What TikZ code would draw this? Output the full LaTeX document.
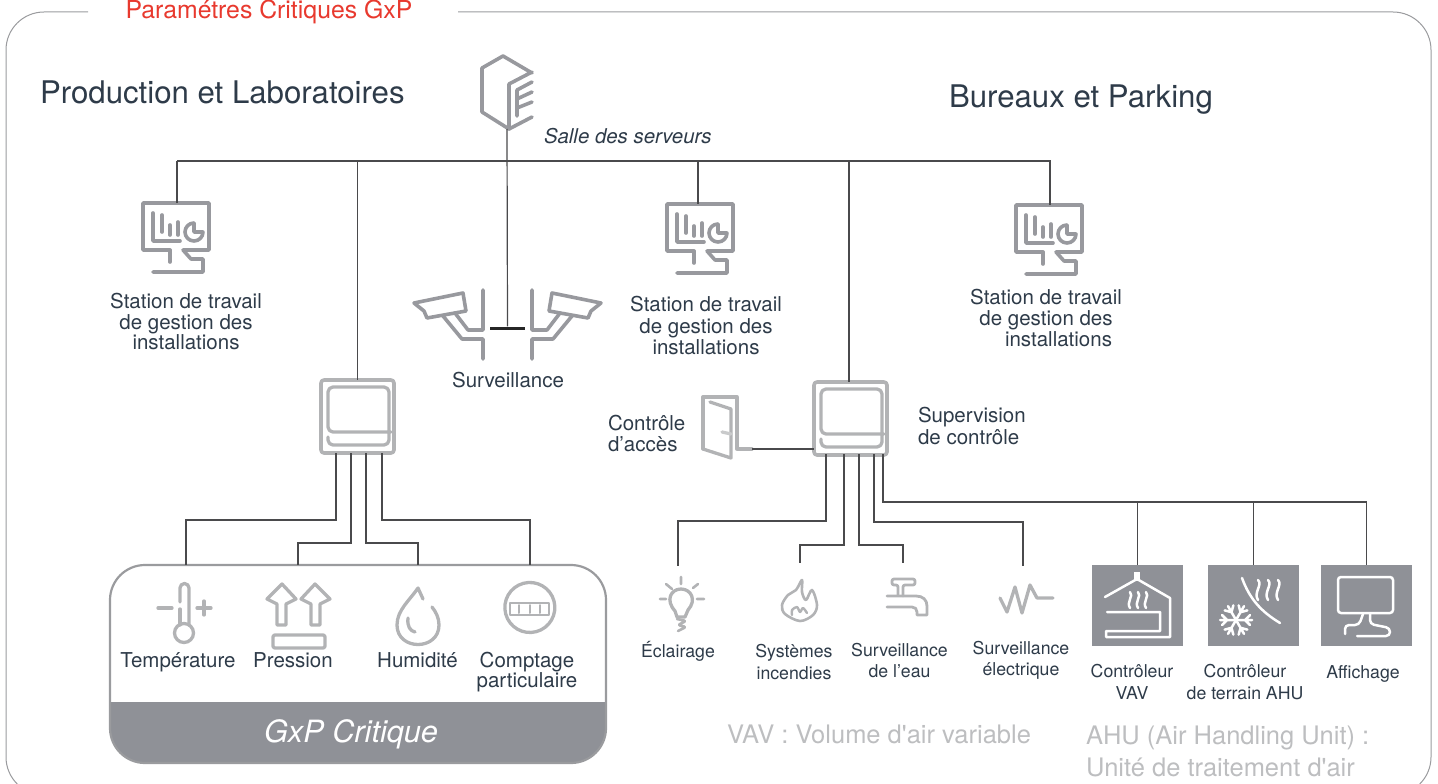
\documentclass[tikz,border=0pt]{standalone}
\usepackage{fontspec}
\setmainfont{TeX Gyre Heros}
\newfontfamily\notefont{TeX Gyre Heros}
\usetikzlibrary{calc}
\definecolor{inkdark}{HTML}{2E3B49}
\definecolor{framegray}{HTML}{9A9B9E}
\definecolor{icongray}{HTML}{98999E}
\definecolor{softgray}{HTML}{B2B3B5}
\definecolor{notegray}{HTML}{BDBEC0}
\definecolor{panelgray}{HTML}{8F9197}
\definecolor{wirebk}{HTML}{4A4A4C}
\definecolor{titlered}{HTML}{E8392E}

\begin{document}
\begin{tikzpicture}[x=1pt,y=-1pt]
\tikzset{
mylabel/.style={inner sep=0,outer sep=0,align=center,text=inkdark,font=\fontsize{20.5}{20.5}\selectfont},
mysmall/.style={inner sep=0,outer sep=0,align=center,text=inkdark,font=\fontsize{17.7}{21.5}\selectfont},
myhead/.style={inner sep=0,outer sep=0,anchor=base west,text=inkdark,font=\fontsize{31.2}{31.2}\selectfont},
mynote/.style={inner sep=0,outer sep=0,anchor=west,align=left,text=notegray,font=\notefont\fontsize{25.5}{32}\selectfont},
iconbox/.style={rectangle,inner sep=0,outer sep=0,anchor=north west},
panel/.style={iconbox,fill=panelgray,minimum width=91pt,minimum height=81pt},
myline/.style={draw=wirebk,line width=1.2pt},
icon/.style={draw=icongray,line width=3.6pt,line join=round,line cap=round},
softicon/.style={draw=softgray,line width=3.3pt,line join=round,line cap=round},
whiteicon/.style={draw=white,line width=2.5pt,line join=round,line cap=round},
stationicon/.pic={
  \draw[icon] (27,47) -- (0,47) -- (0,0) -- (66,0) -- (66,47) -- (40,47) -- (48,56) -- (60,56) -- (60,69) -- (10,69);
  \draw[icon] (27,47) -- (27,59);
  \draw[icon] (10,10) -- (10,38) -- (37,38);
  \draw[icon] (19,12) -- (19,29);
  \draw[icon] (27,22) -- (27,32);
  \draw[icon] (35,19) -- (35,32);
  \draw[icon] (51,20) arc[start angle=-90,end angle=-360,radius=9] -- (51,29) -- (51,20);
},
ctrlicon/.pic={
  \draw[softicon,rounded corners=3pt,line width=3.6pt] (0,0) rectangle (73,73);
  \draw[softicon,rounded corners=5pt] (70,52) -- (7,52) -- (7,7) -- (68,7) -- (68,65) -- (7,65) -- (7,57);
},
camicon/.pic={
  \draw[icon] (-93.5,-25) -- (-83.5,-17) -- (-80.5,-10) -- (-41.5,-17) -- (-44.5,-35) -- cycle;
  \draw[icon] (-52.5,-15) -- (-39.5,2) -- (-24.5,2) -- (-24.5,-38);
  \draw[icon] (-64.5,-12) -- (-45.5,11) -- (-24.5,11) -- (-24.5,31);
},
steamicon/.pic={
  \foreach \sx in {0,1,2}
    \draw[whiteicon] (\sx*8,0) .. controls (\sx*8+4,4) and (\sx*8-4,10) .. (\sx*8,16);
},
}

% bounding box and outer frame
\path[clip] (0,0) rectangle (1438,784);
\draw[framegray,line width=1pt,rounded corners=38pt] (88,12) -- (6,12) -- (6,795) -- (1431,795) -- (1431,12) -- (458,12);
\node[inner sep=0,anchor=base,text=titlered,font=\fontsize{24.8}{24.8}\selectfont] (title) at (269,18.5) {Paramétres Critiques GxP};
\node[myhead] (prodhead) at (40,103) {Production et Laboratoires};
\node[myhead] (burhead) at (949,107) {Bureaux et Parking};

% server room
\node[iconbox,minimum width=50pt,minimum height=73pt] (server) at (482,56) {};
\draw[icon] (532,73) -- (503,56) -- (482,68) -- (482,112) -- (509,129) -- (509,84) -- (532,72);
\draw[icon] (509,129) -- (532,117);
\draw[icon] (532,82) -- (517,90) -- (517,116);
\draw[icon] (532,92) -- (517,99);
\draw[icon] (532,102) -- (517,108);
\node[mylabel,anchor=west,font=\fontsize{20.4}{20.5}\selectfont\itshape] (serverlabel) at (544,136) {Salle des serveurs};

% work stations
\node[iconbox,minimum width=68pt,minimum height=70pt] (station1) at (143,203) {};
\node[iconbox,minimum width=62pt,minimum height=70pt] (station2) at (667,204) {};
\node[iconbox,minimum width=68pt,minimum height=70pt] (station3) at (1016,205) {};
\pic at (station1.north west) {stationicon};
\pic at (station2.north west) {stationicon};
\pic at (station3.north west) {stationicon};
\node[mylabel] (stationlabel1) at (186,321.5) {Station de travail\\de gestion des\\installations};
\node[mylabel,font=\fontsize{20.5}{21.5}\selectfont] (stationlabel2) at (706,325.5) {Station de travail\\de gestion des\\installations};
\node[mylabel,font=\fontsize{20.5}{21}\selectfont] (stationlabel3) at (1046,318) {Station de travail\\de gestion des\\\hspace*{25pt}installations};

% surveillance
\node[rectangle,inner sep=0,fill=black!85,minimum width=35pt,minimum height=3pt] (tbar) at (507.5,328) {};
\pic at (tbar) {camicon};
\pic[xscale=-1] at (tbar) {camicon};
\node[mylabel] (camlabel) at (508,380) {Surveillance};

% controllers
\node[iconbox,minimum width=73pt,minimum height=73pt] (ctrl1) at (321,380) {};
\node[iconbox,minimum width=70pt,minimum height=72pt] (ctrl2) at (814,382) {};
\pic at (ctrl1.north west) {ctrlicon};
\pic at (ctrl2.north west) {ctrlicon};
\node[mylabel,anchor=west,align=left,font=\fontsize{20.5}{22}\selectfont] (ctrllabel) at (918,426) {Supervision\\de contrôle};

% door
\node[iconbox,minimum width=49pt,minimum height=61pt] (door) at (703,397) {};
\draw[softicon] (703,449) -- (703,397) -- (737,397) -- (737,449) -- (752,449);
\draw[softicon] (703,449) -- (731,458) -- (731,409) -- (710,402);
\draw[softicon,draw=softgray!70] (722,432) -- (731,434);
\node[mylabel,anchor=west,align=left,font=\fontsize{20.5}{21}\selectfont] (doorlabel) at (608,433) {Contrôle\\d’accès};
\coordinate (doorend) at (752,449);

% GxP panel
\node[iconbox,minimum width=496pt,minimum height=198pt] (gxpbox) at (110,565) {};
\begin{scope}
\path[clip] (110,702) rectangle (606,763);
\fill[panelgray,rounded corners=35pt] (110,600) rectangle (606,763);
\end{scope}
\draw[framegray,line width=2.2pt,rounded corners=35pt] (110,565) rectangle (606,763);
\node[inner sep=0,text=white,font=\fontsize{30.7}{30.7}\selectfont\itshape] (gxplabel) at (351,734) {GxP Critique};

% icons in the panel
\node[iconbox,minimum width=56pt,minimum height=80pt] (temp) at (158,565) {};
\node[iconbox,minimum width=62pt,minimum height=80pt] (press) at (267,565) {};
\node[iconbox,minimum width=42pt,minimum height=80pt] (humid) at (397,565) {};
\node[iconbox,minimum width=50pt,minimum height=80pt] (meter) at (505,565) {};
\draw[softicon] (180,602) -- (180,588) arc[start angle=180,end angle=360,radius=4.5] -- (189,625);
\draw[softicon] (180,609) -- (180,625);
\draw[softicon] (184,633) circle[radius=9.5];
\draw[softicon] (158,608) -- (172,608);
\draw[softicon] (197,608) -- (211,608) (204,601) -- (204,615);
\draw[softicon] (277,625) -- (277,604) -- (267,599) -- (282,584) -- (296,599) -- (286,604) -- (286,625) -- cycle;
\draw[softicon] (311,625) -- (311,604) -- (301,599) -- (315,584) -- (330,599) -- (320,604) -- (320,625) -- cycle;
\draw[softicon,rounded corners=2pt] (273,635) rectangle (325,648);
\draw[softicon] (423,599) -- (418,588) .. controls (410,600) and (397,610) .. (397,625) .. controls (397,651) and (439,651) .. (439,625) .. controls (439,618) and (436,612) .. (432,607);
\draw[softicon] (408,618) .. controls (407,626) and (410,631) .. (415,632);
\draw[softicon] (554,601) arc[start angle=-15,end angle=-375,radius=25];
\draw[softicon,line width=2.4pt] (510,603) rectangle (549,615);
\draw[softicon,line width=2pt] (519,605) -- (519,613) (530,605) -- (530,613) (540,605) -- (540,613);
\node[mylabel,anchor=base] (templabel) at (178,667) {Température};
\node[mylabel,anchor=base] (presslabel) at (293,667) {Pression};
\node[mylabel,anchor=base] (humidlabel) at (417.5,667) {Humidité};
\node[mylabel] (meterlabel) at (527,672) {Comptage\\particulaire};

% icons on the right
\node[iconbox,minimum width=36pt,minimum height=70pt] (lamp) at (660,566) {};
\node[iconbox,minimum width=40pt,minimum height=60pt] (fire) at (780,563) {};
\node[iconbox,minimum width=40pt,minimum height=60pt] (tap) at (883,563) {};
\node[iconbox,minimum width=60pt,minimum height=60pt] (pulse) at (993,566) {};
\draw[softicon] (675,611) .. controls (665,600) and (671,589) .. (681,589) .. controls (691,589) and (697,600) .. (688,610) -- (685,617) -- (677,617) -- cycle;
\draw[softicon,line width=2.6pt,rounded corners=1.5pt] (677,619) -- (686,621) -- (678,625) -- (686,627) -- (678,631);
\draw[softicon,line width=2.6pt] (681,577) -- (681,584) (666,584) -- (672,589) (698,584) -- (693,588) (660,599) -- (666,599) (697,599) -- (704,599);
\draw[softicon,line width=2.6pt] plot[smooth cycle,tension=.55] coordinates {(800,621) (785,614) (782,605) (788,595) (796,590) (802,580) (802,592) (806,600) (812,590) (817,605) (813,615)};
\draw[softicon,line width=2.4pt] plot[smooth,tension=.5] coordinates {(792,615) (792,610) (797,607) (800,612) (803,608) (807,613)};
\draw[softicon,line width=2.8pt,rounded corners=2pt] (898,595) -- (898,585) -- (892,585) -- (892,579) -- (915,579) -- (915,585) -- (903,585) -- (903,596);
\draw[softicon,line width=2.8pt] (887,596) -- (916,596) .. controls (923,596) and (927,600) .. (927,606) -- (927,615) -- (917,615) -- (917,612) .. controls (917,609) and (915,607) .. (912,607) -- (887,607);
\draw[softicon] (1000,598) -- (1007,612) -- (1015,587) -- (1022,613) -- (1030,585) -- (1037,598) -- (1053,598);
\node[mysmall,anchor=base] (lamplabel) at (678,657) {Éclairage};
\node[mysmall] (firelabel) at (794,662) {Systèmes\\incendies};
\node[mysmall] (taplabel) at (899.5,660.5) {Surveillance\\de l’eau};
\node[mysmall] (pulselabel) at (1021,660.5) {Surveillance\\électrique};

% gray panels
\node[panel] (vav) at (1092,565) {};
\node[panel] (ahu) at (1208,565) {};
\node[panel] (display) at (1321,565) {};
\draw[whiteicon] (1105,597) -- (1137,579) -- (1170,598) -- (1170,637) -- (1106,637) -- (1106,631) -- (1160,631) -- (1160,612) -- (1107,612);
\fill[white] (1134,572) rectangle (1140,581);
\pic at (1130,592) {steamicon};
\draw[whiteicon] (1242,578) .. controls (1250,600) and (1262,612) .. (1280,623);
\pic[scale=1.25] at (1258,580) {steamicon};
\foreach \ang in {0,60,...,300}
  \draw[whiteicon,shift={(1236,620)},rotate=\ang] (0,0) -- (16,0) (9,0) -- (14,-5) (9,0) -- (14,5);
\draw[whiteicon,rounded corners=3pt] (1338,577) rectangle (1393,613);
\draw[whiteicon,rounded corners=4pt] (1345,634) -- (1345,625) -- (1359,625) -- (1363,614);
\draw[whiteicon,rounded corners=4pt] (1370,614) -- (1370,624) -- (1390,628) -- (1390,636) -- (1357,636);
\node[mysmall] (vavlabel) at (1132,682) {Contrôleur\\VAV};
\node[mysmall] (ahulabel) at (1245,682) {Contrôleur\\de terrain AHU};
\node[mysmall,anchor=base] (displaylabel) at (1363,678) {Affichage};

% notes
\node[mynote] (vavnote) at (727,734) {VAV : Volume d'air variable};
\node[mynote] (ahunote) at (1086,751) {AHU (Air Handling Unit) :\\Unité de traitement d'air};

% wires
\coordinate (busleft) at (177,161);
\coordinate (busright) at (1051,161);
\coordinate (hvacbus) at (1200,502);
\draw[myline,line width=1.6pt] (busleft) -- (busright);
\draw[myline] (server.south) -- (tbar.north);
\draw[myline] (station1.north |- busleft) -- (station1.north);
\draw[myline] (station2.north |- busleft) -- (station2.north);
\draw[myline] (station3.north |- busleft) -- (station3.north);
\draw[myline] (ctrl1.north |- busleft) -- (ctrl1.north);
\draw[myline] (ctrl2.north |- busleft) -- (ctrl2.north);
\draw[myline] (doorend) -- (doorend -| ctrl2.west);
\draw[myline] ([xshift=15pt]ctrl1.south west) -- ++(0,67) -| (temp.north);
\draw[myline] ([xshift=30pt]ctrl1.south west) -- ++(0,90) -| (press.north);
\draw[myline] ([xshift=45pt]ctrl1.south west) -- ++(0,90) -| (humid.north);
\draw[myline] ([xshift=61pt]ctrl1.south west) -- ++(0,67) -| (meter.north);
\draw[myline] ([xshift=12pt]ctrl2.south west) -- ++(0,67) -| (lamp.north);
\draw[myline] ([xshift=30pt]ctrl2.south west) -- ++(0,91) -| (fire.north);
\draw[myline] ([xshift=45pt]ctrl2.south west) -- ++(0,91) -| (tap.north);
\draw[myline] ([xshift=60pt]ctrl2.south west) -- ++(0,68) -| (pulse.north);
\draw[myline] ([xshift=69pt]ctrl2.south west) -- ++(0,48) -| (display.north);
\draw[myline] (vav.north |- hvacbus) -- (vav.north);
\draw[myline] (ahu.north |- hvacbus) -- (ahu.north);
\end{tikzpicture}
\end{document}
